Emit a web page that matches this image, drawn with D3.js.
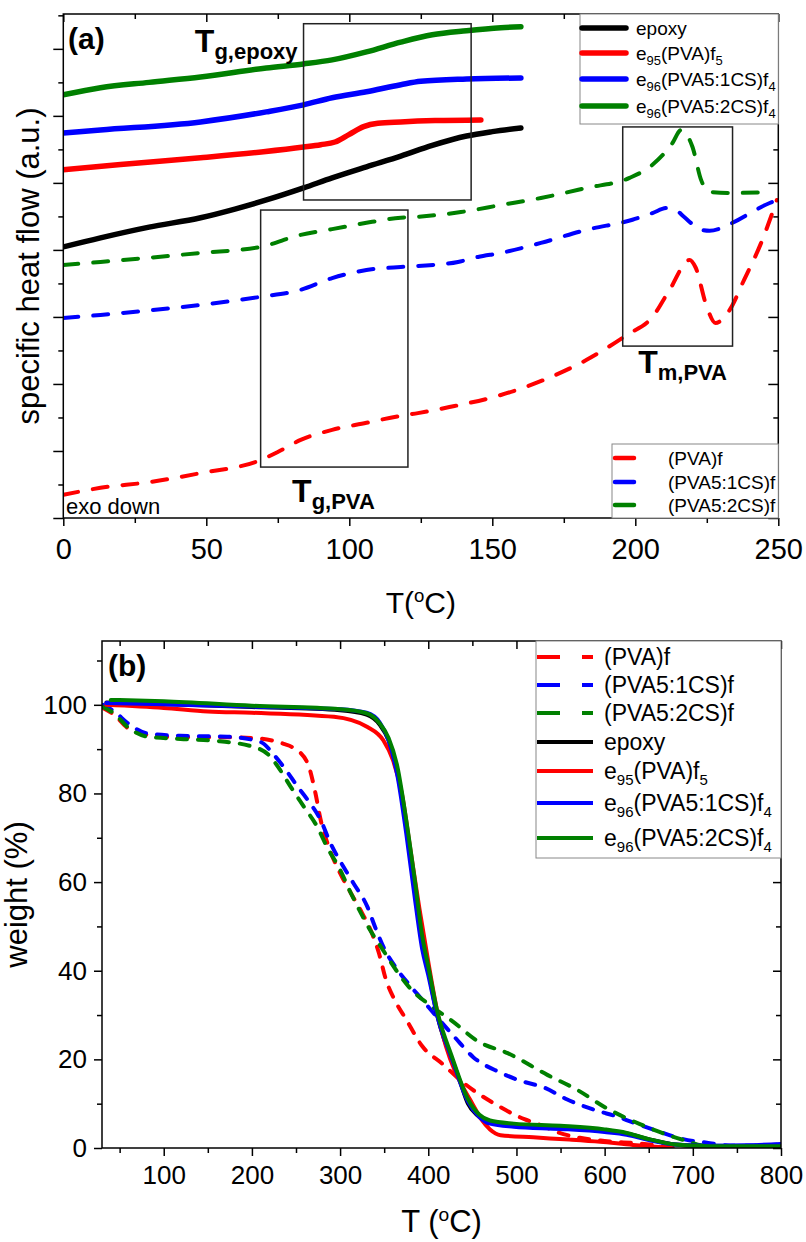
<!DOCTYPE html>
<meta charset="utf-8">
<style>
body { margin: 0; background: #fff; }
svg { display: block; font-family: "Liberation Sans", Arial, sans-serif; }
.frame { fill: none; stroke: #000; stroke-width: 1.5px; }
.axis path { display: none; }
.axis line { stroke: #000; stroke-width: 1.5px; }
.line { fill: none; stroke-linejoin: round; stroke-linecap: round; }
.box { fill: none; stroke: #222; stroke-width: 1.5px; }
.legend { fill: #fff; stroke: #888; stroke-width: 1px; }
</style>
<svg width="806" height="1242"></svg>
<script src="https://cdn.jsdelivr.net/npm/d3@7"></script>
<script>
// ---- (a) DSC: T (degC), specific heat flow in a.u. (1 unit = 1 y tick) ----
var dscEpoxy = [[0,8.09],[13,8.36],[30,8.68],[48,8.96],[60,9.22],[71,9.49],[84,9.85],[94,10.15],[106,10.48],[118,10.8],[129,11.12],[141,11.4],[150,11.53],[160,11.64]];
var dscE95 = [[0,10.39],[20,10.55],[48,10.75],[70,10.93],[84,11.07],[90,11.14],[95,11.22],[100,11.45],[105,11.68],[110,11.78],[118,11.82],[130,11.86],[146,11.88]];
var dscE96a = [[0,11.49],[13,11.58],[48,11.82],[71,12.12],[84,12.33],[94,12.54],[106,12.72],[118,12.93],[125,13.03],[141,13.1],[160,13.13]];
var dscE96b = [[0,12.63],[13,12.84],[30,13.0],[48,13.16],[71,13.43],[84,13.55],[94,13.67],[106,13.91],[118,14.2],[129,14.42],[141,14.54],[153,14.63],[160,14.66]];
var dscPVA = [[0,0.69],[13,0.9],[30,1.07],[48,1.34],[69,1.73],[75,1.97],[83,2.33],[94,2.63],[106,2.84],[118,3.05],[124,3.13],[135,3.31],[153,3.67],[168,4.12],[183,4.72],[197,5.46],[206,6.0],[212,6.81],[219,7.7],[221,7.49],[225,6.3],[228,5.82],[233,6.21],[238,7.1],[244,8.21],[249.5,9.49]];
var dscPVA1 = [[0,5.97],[13,6.06],[48,6.36],[69,6.6],[83,6.81],[94,7.16],[106,7.4],[118,7.49],[124,7.52],[138,7.64],[145,7.79],[153,7.91],[167,8.21],[183,8.6],[199,8.9],[206,9.1],[211,9.25],[214,9.2],[217,8.99],[221,8.7],[223,8.6],[226,8.57],[230,8.65],[234,8.81],[247,9.4],[250,9.5]];
var dscPVA2 = [[0,7.55],[13,7.64],[48,7.91],[69,8.09],[83,8.45],[94,8.62],[106,8.81],[118,8.96],[124,8.99],[139,9.13],[153,9.34],[167,9.55],[183,9.85],[198,10.15],[206,10.54],[213,11.19],[216,11.58],[220,11.07],[223,10.09],[226,9.73],[234,9.7],[248,9.73]];

// ---- (b) TGA: T (degC), weight (%) ----
var tgaEpoxy = [[35,100.5],[100,100.2],[200,99.5],[300,98.8],[330,97.8],[345,95.5],[355,92],[365,85],[375,73],[385,58],[393,46],[400,40],[410,30],[418,24.5],[427,20],[436,15],[445,10],[455,7.5],[468,6.0],[497,5.3],[550,4.8],[600,4.0],[625,3.3],[650,2.0],[680,0.8],[720,0.4],[800,0.4]];
var tgaE95 = [[35,100],[100,99.3],[150,98.5],[200,98.2],[293,97.3],[331,95],[349,92],[360,87.5],[370,80],[380,67],[390,54],[400,42],[410,31],[420,23],[430,17.5],[440,13.5],[450,10],[460,6.5],[470,4.2],[482,2.9],[519,2.4],[560,1.9],[595,1.4],[632,0.7],[675,0.1]];
var tgaE96a = [[35,100.4],[100,100.1],[200,99.6],[300,99.0],[330,98.2],[345,96],[355,92],[365,84],[375,71],[385,56],[393,45],[400,39],[410,30],[427,20],[445,10.5],[458,7],[470,5.5],[497,4.8],[550,4.3],[600,3.6],[625,3.0],[650,1.8],[680,0.8],[720,0.5],[760,0.6],[800,0.9]];
var tgaE96b = [[40,101.1],[100,100.8],[200,99.8],[300,99.0],[330,98.1],[345,95.8],[355,92.5],[365,86],[375,74],[385,60],[393,48],[400,41],[410,31],[427,20.5],[445,11],[458,7.5],[470,6.2],[497,5.5],[550,5.0],[600,4.2],[625,3.4],[650,2.0],[680,0.8],[720,0.4],[800,0.4]];
var tgaPVA = [[31,99.3],[44,97.7],[59,94.8],[82,93.2],[119,92.7],[157,92.7],[202,92.5],[236,91.2],[247,90.3],[263,86.9],[272,80.1],[278,74],[287,68],[300,62],[312,57.6],[325,53],[335,49],[344,44],[352,38],[363,33],[375,29],[393,23],[416,19],[440,14.7],[475,10],[509,6.5],[530,5],[546,3.6],[572,2.3],[600,1.6],[640,1.0],[680,0.1]];
var tgaPVA1 = [[31,100],[44,98.5],[59,95.9],[82,93.5],[119,93],[172,92.8],[210,91.6],[225,88.7],[236,86],[252,81.5],[263,78.6],[278,74],[289,68.8],[304,63.4],[315,59.8],[331,54.4],[340,49.7],[350,45],[364,40.5],[380,36.5],[393,33.5],[410,29.5],[430,25],[451,20.5],[482,17],[501,15.4],[533,13.5],[557,11],[590,8.5],[614,7.1],[640,5.2],[663,3.6],[689,2.0],[716,1.2],[748,0.5],[780,0.6],[800,0.8]];
var tgaPVA2 = [[31,99.5],[44,98],[59,95],[82,92.8],[119,92.3],[157,91.9],[202,90.5],[221,88.3],[232,85.3],[244,81.5],[259,77],[274,72.5],[285,68],[300,62.8],[312,57.6],[326,52.1],[334,49.2],[346,45.5],[364,40],[381,35.7],[405,31.8],[428,28.5],[457,24],[490,21.4],[535,16.5],[569,13.1],[602,9],[640,5.4],[678,2.5],[693,1.6],[710,0.6],[750,0.4]];

// labels (_{..} = subscript)
var solidNames = ["epoxy", "e_{95}(PVA)f_{5}", "e_{96}(PVA5:1CS)f_{4}", "e_{96}(PVA5:2CS)f_{4}"];
var dashNames = ["(PVA)f", "(PVA5:1CS)f", "(PVA5:2CS)f"];
var solidColors = ["#000000", "#ff0000", "#0000ff", "#008000"];
var dashColors = ["#ff0000", "#0000ff", "#008000"];

// annotation boxes in (a): [T0, T1, top, bottom] and labels [T, y, sub]
var boxes = [[84, 142.6, 14.75, 9.49], [69, 120.5, 9.19, 1.52], [195.6, 234, 11.67, 5.13]];
var boxLabels = [[46, 13.91, "g,epoxy"], [80, 0.48, "g,PVA"], [201, 4.33, "m,PVA"]];

var svg = d3.select("svg");

function richText(t, str, subSize, shift) {
  var parts = str.split(/(_\{[^}]*\})/), down = false;
  parts.forEach(function(p) {
    if (!p) return;
    if (p.indexOf("_{") === 0) {
      t.append("tspan").attr("font-size", subSize).attr("dy", shift).text(p.slice(2, -1));
      down = true;
    } else {
      t.append("tspan").attr("dy", down ? -shift : 0).text(p);
      down = false;
    }
  });
}

function axis(fn, transform, values, size, pad, fontSize) {
  var ax = fn.tickValues(values).tickSize(size).tickPadding(pad || 3)
    .tickFormat(fontSize ? d3.format("d") : "");
  var g = svg.append("g").attr("class", "axis").attr("transform", transform).call(ax);
  g.attr("font-family", null).attr("font-size", fontSize || null);
  return g;
}

function degLabel(x, y, pre, size) {
  var t = svg.append("text").attr("x", x).attr("y", y).attr("font-size", size)
    .attr("text-anchor", "middle");
  t.append("tspan").text(pre);
  t.append("tspan").attr("font-size", size * 0.62).attr("dy", -size * 0.36).text("o");
  t.append("tspan").attr("dy", size * 0.36).text("C)");
}

// ================= panel (a) =================
var A = {l: 63.3, r: 778.3, t: 14, b: 518};
var xa = d3.scaleLinear().domain([0, 250]).range([A.l, A.r]);
var ya = d3.scaleLinear().domain([0, 15.04]).range([A.b, A.t]);
var lineA = d3.line().curve(d3.curveMonotoneX).x(function(d) { return xa(d[0]); }).y(function(d) { return ya(d[1]); });

svg.append("clipPath").attr("id", "clipA").append("rect")
  .attr("x", A.l).attr("y", A.t).attr("width", A.r - A.l).attr("height", A.b - A.t);

var gA = svg.append("g").attr("clip-path", "url(#clipA)");
[dscPVA, dscPVA1, dscPVA2].forEach(function(d, i) {
  gA.append("path").datum(d).attr("class", "line").attr("d", lineA)
    .attr("stroke", dashColors[i]).attr("stroke-width", 4).attr("stroke-dasharray", "15,15");
});
[dscEpoxy, dscE95, dscE96a, dscE96b].forEach(function(d, i) {
  gA.append("path").datum(d).attr("class", "line").attr("d", lineA)
    .attr("stroke", solidColors[i]).attr("stroke-width", 5.5);
});

boxes.forEach(function(b) {
  svg.append("rect").attr("class", "box")
    .attr("x", xa(b[0])).attr("y", ya(b[2]))
    .attr("width", xa(b[1]) - xa(b[0])).attr("height", ya(b[3]) - ya(b[2]));
});
boxLabels.forEach(function(b) {
  var t = svg.append("text").attr("x", xa(b[0])).attr("y", ya(b[1]))
    .attr("font-weight", "bold").attr("font-size", 32);
  t.append("tspan").text("T");
  t.append("tspan").attr("font-size", 22).attr("dy", 7).text(b[2]);
});

// axes (a)
var xaMaj = d3.range(0, 251, 50), xaMin = d3.range(25, 250, 50);
var yaMaj = d3.range(0, 15, 2), yaMin = d3.range(1, 16, 2);
axis(d3.axisBottom(xa), "translate(0," + A.b + ")", xaMaj, 8, 12, 29);
axis(d3.axisBottom(xa), "translate(0," + A.b + ")", xaMin, 5);
axis(d3.axisTop(xa), "translate(0," + A.t + ")", xaMaj, -8);
axis(d3.axisTop(xa), "translate(0," + A.t + ")", xaMin, -5);
axis(d3.axisLeft(ya), "translate(" + A.l + ",0)", yaMaj, 10);
axis(d3.axisLeft(ya), "translate(" + A.l + ",0)", yaMin, 5);
axis(d3.axisRight(ya), "translate(" + A.r + ",0)", yaMaj, -10);
axis(d3.axisRight(ya), "translate(" + A.r + ",0)", yaMin, -5);
svg.append("rect").attr("class", "frame").attr("x", A.l).attr("y", A.t)
  .attr("width", A.r - A.l).attr("height", A.b - A.t);

svg.append("text").attr("x", 68).attr("y", 49).attr("font-weight", "bold").attr("font-size", 30).text("(a)");
svg.append("text").attr("x", 66).attr("y", 514).attr("font-size", 22).text("exo down");
svg.append("text").attr("transform", "translate(38.5," + (A.t + A.b) / 2 + ") rotate(-90)")
  .attr("text-anchor", "middle").attr("font-size", 31).text("specific heat flow (a.u.)");
degLabel((A.l + A.r) / 2, 613, "T(", 30);

// legends (a)
svg.append("rect").attr("class", "legend").attr("x", 580).attr("y", A.t).attr("width", A.r - 580).attr("height", 110);
var topLegY = [28, 53, 79, 106];
solidNames.forEach(function(n, i) {
  svg.append("line").attr("x1", 582).attr("x2", 626).attr("y1", topLegY[i]).attr("y2", topLegY[i])
    .attr("stroke", solidColors[i]).attr("stroke-width", 5.5).attr("stroke-linecap", "round");
  richText(svg.append("text").attr("x", 636).attr("y", topLegY[i] + 7).attr("font-size", 19), n, 13, 5);
});
svg.append("rect").attr("class", "legend").attr("x", 612).attr("y", 444).attr("width", A.r - 612).attr("height", A.b - 444);
var botLegY = [458, 482, 505];
dashNames.forEach(function(n, i) {
  svg.append("line").attr("x1", 615).attr("x2", 634).attr("y1", botLegY[i]).attr("y2", botLegY[i])
    .attr("stroke", dashColors[i]).attr("stroke-width", 4.5).attr("stroke-linecap", "round");
  svg.append("text").attr("x", 668).attr("y", botLegY[i] + 7).attr("font-size", 19).text(n);
});

// ================= panel (b) =================
var B = {l: 102, r: 781, t: 641, b: 1148};
var xb = d3.scaleLinear().domain([30, 800]).range([B.l, B.r]);
var yb = d3.scaleLinear().domain([0, 114.4]).range([B.b, B.t]);
var lineB = d3.line().curve(d3.curveMonotoneX).x(function(d) { return xb(d[0]); }).y(function(d) { return yb(d[1]); });

svg.append("clipPath").attr("id", "clipB").append("rect")
  .attr("x", B.l).attr("y", B.t).attr("width", B.r - B.l).attr("height", B.b - B.t);
var gB = svg.append("g").attr("clip-path", "url(#clipB)");
[tgaPVA, tgaPVA1, tgaPVA2].forEach(function(d, i) {
  gB.append("path").datum(d).attr("class", "line").attr("d", lineB)
    .attr("stroke", dashColors[i]).attr("stroke-width", 4).attr("stroke-dasharray", "10,11");
});
[tgaEpoxy, tgaE95, tgaE96a, tgaE96b].forEach(function(d, i) {
  gB.append("path").datum(d).attr("class", "line").attr("d", lineB)
    .attr("stroke", solidColors[i]).attr("stroke-width", 4);
});

var xbMaj = d3.range(100, 801, 100), xbMin = d3.range(50, 800, 100);
var ybMaj = d3.range(0, 101, 20), ybMin = d3.range(10, 115, 20);
axis(d3.axisBottom(xb), "translate(0," + B.b + ")", xbMaj, 8, 10, 26);
axis(d3.axisBottom(xb), "translate(0," + B.b + ")", xbMin, 5);
axis(d3.axisTop(xb), "translate(0," + B.t + ")", xbMaj, -8);
axis(d3.axisTop(xb), "translate(0," + B.t + ")", xbMin, -5);
axis(d3.axisLeft(yb), "translate(" + B.l + ",0)", ybMaj, 8, 7, 26);
axis(d3.axisLeft(yb), "translate(" + B.l + ",0)", ybMin, 5);
axis(d3.axisRight(yb), "translate(" + B.r + ",0)", ybMaj, -8);
axis(d3.axisRight(yb), "translate(" + B.r + ",0)", ybMin, -5);
svg.append("rect").attr("class", "frame").attr("x", B.l).attr("y", B.t)
  .attr("width", B.r - B.l).attr("height", B.b - B.t);

svg.append("text").attr("x", 108).attr("y", 676).attr("font-weight", "bold").attr("font-size", 30).text("(b)");
svg.append("text").attr("transform", "translate(27," + (B.t + B.b) / 2 + ") rotate(-90)")
  .attr("text-anchor", "middle").attr("font-size", 31).text("weight (%)");
degLabel((B.l + B.r) / 2, 1232, "T (", 31);

// legend (b)
svg.append("rect").attr("class", "legend").attr("x", 536).attr("y", B.t).attr("width", B.r - 536).attr("height", 217);
var legBY = [657, 685, 713, 742, 771, 803, 838];
dashNames.forEach(function(n, i) {
  svg.append("line").attr("x1", 537).attr("x2", 593).attr("y1", legBY[i]).attr("y2", legBY[i])
    .attr("stroke", dashColors[i]).attr("stroke-width", 4).attr("stroke-dasharray", "23,22");
  svg.append("text").attr("x", 604).attr("y", legBY[i] + 8).attr("font-size", 23).text(n);
});
solidNames.forEach(function(n, i) {
  var y = legBY[i + 3];
  svg.append("line").attr("x1", 537).attr("x2", 593).attr("y1", y).attr("y2", y)
    .attr("stroke", solidColors[i]).attr("stroke-width", 4);
  richText(svg.append("text").attr("x", 604).attr("y", y + 8).attr("font-size", 23), n, 15, 6);
});
</script>
